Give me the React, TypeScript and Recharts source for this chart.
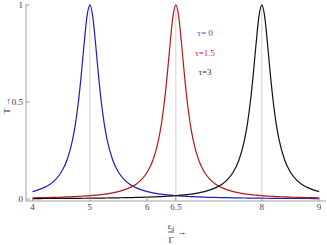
import { LineChart, Line, XAxis, YAxis, ReferenceLine, Legend, Label } from 'recharts';

// sample positions (denser around the three peaks)
const xs = [
  4.0, 4.1, 4.2, 4.3, 4.4, 4.5, 4.6, 4.7,
  4.75, 4.8, 4.85, 4.9, 4.95, 5.0, 5.05, 5.1, 5.15, 5.2, 5.25,
  5.3, 5.4, 5.5, 5.6, 5.7, 5.8, 5.9, 6.0, 6.1, 6.2,
  6.25, 6.3, 6.35, 6.4, 6.45, 6.5, 6.55, 6.6, 6.65, 6.7, 6.75,
  6.8, 6.9, 7.0, 7.1, 7.2, 7.3, 7.4, 7.5, 7.6, 7.7,
  7.75, 7.8, 7.85, 7.9, 7.95, 8.0, 8.05, 8.1, 8.15, 8.2, 8.25,
  8.3, 8.4, 8.5, 8.6, 8.7, 8.8, 8.9, 9.0,
];

const tau0 = [
  0.0385, 0.0471, 0.0588, 0.0755, 0.1, 0.138, 0.2, 0.308,
  0.39, 0.5, 0.64, 0.8, 0.941, 1, 0.941, 0.8, 0.64, 0.5, 0.39,
  0.308, 0.2, 0.138, 0.1, 0.0755, 0.0588, 0.0471, 0.0385, 0.032, 0.027,
  0.025, 0.0231, 0.0215, 0.02, 0.0187, 0.0175, 0.0164, 0.0154, 0.0145, 0.0137, 0.0129,
  0.0122, 0.011, 0.0099, 0.009, 0.0082, 0.0075, 0.0069, 0.0064, 0.0059, 0.0055,
  0.0053, 0.0051, 0.0049, 0.0047, 0.0046, 0.0044, 0.0043, 0.0041, 0.004, 0.0039, 0.0038,
  0.0037, 0.0034, 0.0033, 0.0031, 0.0029, 0.0028, 0.0026, 0.0025,
];

const tau15 = [
  0.0064, 0.0069, 0.0075, 0.0082, 0.009, 0.0099, 0.011, 0.0122,
  0.0129, 0.0137, 0.0145, 0.0154, 0.0164, 0.0175, 0.0187, 0.02, 0.0215, 0.0231, 0.025,
  0.027, 0.032, 0.0385, 0.0471, 0.0588, 0.0755, 0.1, 0.138, 0.2, 0.308,
  0.39, 0.5, 0.64, 0.8, 0.941, 1, 0.941, 0.8, 0.64, 0.5, 0.39,
  0.308, 0.2, 0.138, 0.1, 0.0755, 0.0588, 0.0471, 0.0385, 0.032, 0.027,
  0.025, 0.0231, 0.0215, 0.02, 0.0187, 0.0175, 0.0164, 0.0154, 0.0145, 0.0137, 0.0129,
  0.0122, 0.011, 0.0099, 0.009, 0.0082, 0.0075, 0.0069, 0.0064,
];

const tau3 = [
  0.0025, 0.0026, 0.0028, 0.0029, 0.0031, 0.0033, 0.0034, 0.0037,
  0.0038, 0.0039, 0.004, 0.0041, 0.0043, 0.0044, 0.0046, 0.0047, 0.0049, 0.0051, 0.0053,
  0.0055, 0.0059, 0.0064, 0.0069, 0.0075, 0.0082, 0.009, 0.0099, 0.011, 0.0122,
  0.0129, 0.0137, 0.0145, 0.0154, 0.0164, 0.0175, 0.0187, 0.02, 0.0215, 0.0231, 0.025,
  0.027, 0.032, 0.0385, 0.0471, 0.0588, 0.0755, 0.1, 0.138, 0.2, 0.308,
  0.39, 0.5, 0.64, 0.8, 0.941, 1, 0.941, 0.8, 0.64, 0.5, 0.39,
  0.308, 0.2, 0.138, 0.1, 0.0755, 0.0588, 0.0471, 0.0385,
];

const xTicks = [4, 5, 6, 6.5, 8, 9];
const yTicks = [0, 0.5, 1];
const peakLines = [5, 6.5, 8];

const series = [
  { key: 't0', name: 'τ= 0', color: '#1c1cc0', text: '#4a4ad8' },
  { key: 't15', name: 'τ=1.5', color: '#b41818', text: '#c02a2a' },
  { key: 't3', name: 'τ=3', color: '#111111', text: '#333333' },
];

const data = xs.map((x, i) => ({ x, t0: tau0[i], t15: tau15[i], t3: tau3[i] }));

const FONT = '"Liberation Serif", "DejaVu Serif", serif';
const AXIS = '#a0a0a0';
const tickStyle = { fontSize: 9, fill: '#444', fontFamily: FONT };

function XTitle({ viewBox }: any) {
  const cx = viewBox.x + viewBox.width / 2 - 5;
  const y = viewBox.y;
  return (
    <g fontFamily={FONT} fill="#333">
      <text x={cx} y={y + 28} fontSize={8} textAnchor="middle">
        ε<tspan fontSize={6} dy={1.5}>d</tspan>
      </text>
      <line x1={cx - 3} x2={cx + 3} y1={y + 31} y2={y + 31} stroke="#333" strokeWidth={0.8} />
      <text x={cx} y={y + 42} fontSize={9} textAnchor="middle">Γ</text>
      <text x={cx + 11} y={y + 34} fontSize={9} textAnchor="middle">→</text>
    </g>
  );
}

function YTitle({ viewBox }: any) {
  const x = 7;
  const cy = viewBox.y + viewBox.height / 2 + 3;
  return (
    <text x={x} y={cy} fontSize={9} fontFamily={FONT} fill="#333" textAnchor="middle"
      dominantBaseline="central" transform={`rotate(-90 ${x} ${cy})`}>
      T →
    </text>
  );
}

function LegendBox() {
  return (
    <div style={{ fontFamily: FONT, fontSize: 9, lineHeight: '19.5px', textAlign: 'center' }}>
      {series.map((s) => (
        <div key={s.key} style={{ color: s.text }}>{s.name}</div>
      ))}
    </div>
  );
}

export default function App() {
  return (
    <div style={{ position: 'absolute', left: 0, top: 0 }}>
      <LineChart width={327} height={245} data={data} margin={{ top: 4, right: 1, bottom: 0, left: 0 }}>
        {peakLines.map((v) => (
          <ReferenceLine key={v} x={v} stroke="#c8c8c8" strokeWidth={0.8} />
        ))}
        <XAxis dataKey="x" type="number" domain={[3.886, 9.12]} ticks={xTicks} allowDataOverflow
          height={44} stroke={AXIS} tick={tickStyle} tickSize={-4} tickMargin={7}
          tickLine={{ stroke: AXIS }} interval={0}>
          <Label content={<XTitle />} />
        </XAxis>
        <XAxis xAxisId="top" orientation="top" dataKey="x" type="number" domain={[3.886, 9.12]}
          height={0} stroke={AXIS} tick={false} tickLine={false} />
        <YAxis type="number" domain={[-0.01, 1.005]} ticks={yTicks} allowDataOverflow width={26}
          stroke={AXIS} tick={tickStyle} tickSize={-4} tickMargin={7} tickLine={{ stroke: AXIS }}>
          <Label content={<YTitle />} />
        </YAxis>
        <YAxis yAxisId="right" orientation="right" width={0} domain={[-0.01, 1.005]}
          stroke={AXIS} tick={false} tickLine={false} />
        <Legend layout="vertical" align="center" verticalAlign="middle" content={<LegendBox />}
          wrapperStyle={{ position: 'absolute', left: 190, top: 24, width: 30 }} />
        {series.map((s) => (
          <Line key={s.key} dataKey={s.key} name={s.name} type="monotone" stroke={s.color}
            strokeWidth={1.2} dot={false} isAnimationActive={false} />
        ))}
      </LineChart>
    </div>
  );
}
